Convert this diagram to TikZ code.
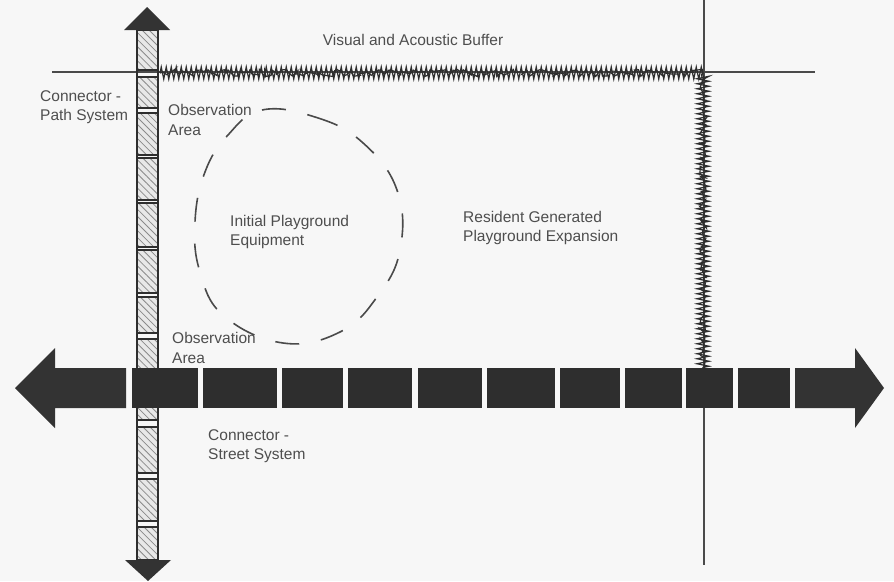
\documentclass[tikz,border=0pt]{standalone}
\usepackage{fontspec}
\setmainfont{Liberation Sans}
\usetikzlibrary{patterns.meta,decorations.pathmorphing}
\definecolor{ink}{HTML}{2E2E2E}
\definecolor{headc}{HTML}{333333}
\definecolor{txt}{HTML}{4E4E4E}
\definecolor{linec}{HTML}{4A4A4A}
\definecolor{hatchbg}{HTML}{E8E8E8}
\definecolor{hatchc}{HTML}{8A8A8A}
\definecolor{bgc}{HTML}{F7F7F7}
\begin{document}
\begin{tikzpicture}[x=1pt,y=-1pt,
  lbl/.style={inner sep=0pt, align=left, text=txt, font=\fontsize{15.5}{19.5}\selectfont, anchor=west},
  barbox/.style={fill=ink, draw=none},
  colbox/.style={preaction={fill=hatchbg}, pattern={Lines[angle=-45,distance=5pt,line width=0.8pt]}, pattern color=hatchc, draw=ink, line width=1.3pt},
  headshape/.style={fill=headc, draw=none},
  thin/.style={draw=linec, line width=1.4pt},
  scribble/.style={draw=ink, line width=1.2pt, decorate, decoration={zigzag, segment length=5pt, amplitude=6pt}},
  scribbletwo/.style={draw=ink, line width=1.2pt, decorate, decoration={random steps, segment length=3pt, amplitude=3.5pt}},
  playarea/.style={draw=linec, line width=1.6pt, dash pattern=on 24pt off 22pt}
]
\pgfmathsetseed{7}
\useasboundingbox (0,0) rectangle (894,581);
\fill[bgc] (0,0) rectangle (894,581);

% thin site lines
\coordinate (hl1) at (52,72);
\coordinate (hl2) at (815,72);
\coordinate (vl1) at (704,0);
\coordinate (vl2) at (704,565);
\draw[thin] (hl1) -- (hl2);
\draw[thin] (vl1) -- (vl2);

% vertical path-system connector
\draw[draw=ink, line width=1.3pt] (137,30) -- (137,560) (158,30) -- (158,560);
\foreach \a/\b in {30/70, 77/108, 113/155, 158/200, 203/247, 250/293, 297/333, 339/372, 377/420, 427/473, 479/521, 527/560}
  \draw[colbox] (137,\a) rectangle (158,\b);
\fill[headshape] (124,30) -- (170,30) -- (147,7) -- cycle;
\fill[headshape] (125,560) -- (171,560) -- (148,581) -- cycle;

% buffer (scribble)
\coordinate (b1) at (160,73);
\coordinate (b2) at (703,73);
\coordinate (b3) at (703,368);
\draw[scribble] (b1) -- (b2) -- (b3);
\draw[scribbletwo] (b1) -- (b2) -- (b3);

% horizontal street-system connector
\fill[headshape] (15,388) -- (55,348) -- (55,368) -- (126,368) -- (126,408) -- (55,408) -- (55,428) -- cycle;
\foreach \a/\b in {132/198, 203/277, 282/343, 348/412, 418/482, 487/555, 560/620, 625/682, 686/733, 738/790}
  \fill[barbox] (\a,368) rectangle (\b,408);
\fill[headshape] (795,368) -- (855,368) -- (855,348) -- (884,388) -- (855,428) -- (855,408) -- (795,408) -- cycle;

% initial playground area
\draw[playarea] plot[smooth cycle, tension=0.7] coordinates {(262,110) (315,117) (362,142) (397,190) (400,250) (377,297) (340,332) (283,343) (224,316) (200,272) (195,222) (205,172) (228,135)};

% labels
\node[lbl, anchor=center] (buffer) at (413,40) {Visual and Acoustic Buffer};
\node[lbl] (path) at (40,107) {Connector -\\Path System};
\node[lbl] (obs1) at (168,120) {Observation\\Area};
\node[lbl] (initial) at (230,232) {Initial Playground\\Equipment};
\node[lbl] (resident) at (463,228) {Resident Generated\\Playground Expansion};
\node[lbl] (obs2) at (172,348) {Observation\\Area};
\node[lbl] (street) at (208,446) {Connector -\\Street System};
\end{tikzpicture}
\end{document}
